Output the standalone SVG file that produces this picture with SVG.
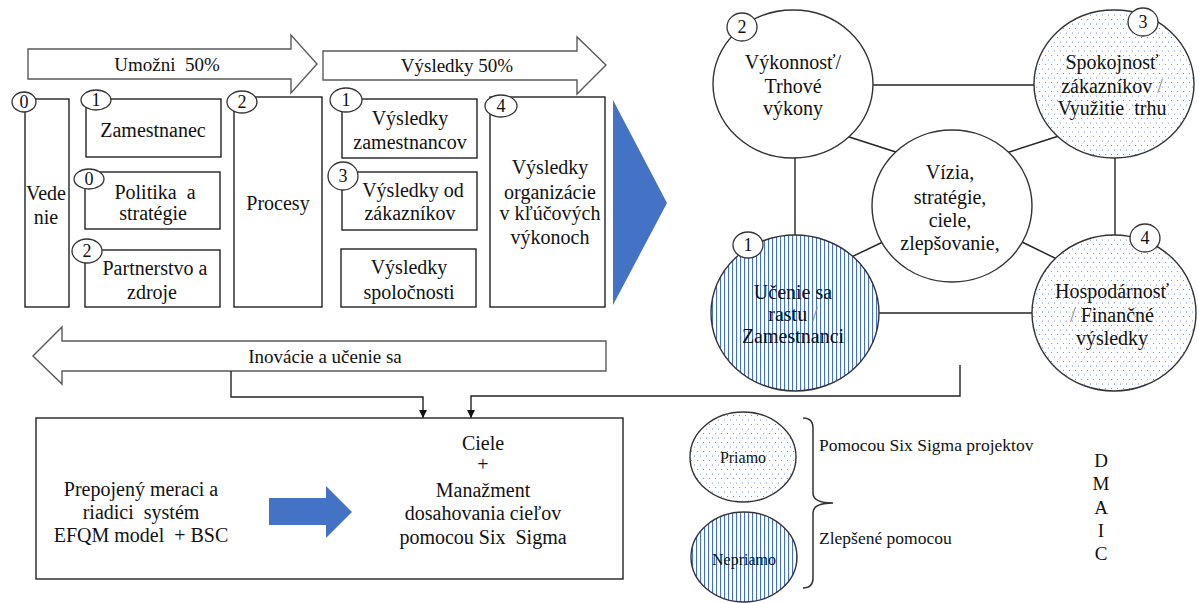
<svg xmlns="http://www.w3.org/2000/svg" width="1199" height="603" viewBox="0 0 1199 603">
  <style>
    text { font-family: "Liberation Serif", "Times New Roman", serif; fill: #111; text-anchor: middle; dominant-baseline: central; }
    .t20 { font-size: 20px; }
    .t19 { font-size: 19px; }
    .num { font-size: 18px; }
    .small { font-size: 17.5px; text-anchor: start; }
    .box { fill: #fff; stroke: #222; stroke-width: 1.4; }
    .blk { fill: #fff; stroke: #5a5a5a; stroke-width: 1.4; }
    .big { stroke: #333; stroke-width: 1.4; }
    .lbl { fill: #fff; stroke: #333; stroke-width: 1.3; }
    .wire { fill: none; stroke: #222; stroke-width: 1.4; }
    .soft { fill: #888; }
  </style>
  <defs>
    <pattern id="dots" width="6" height="9" patternUnits="userSpaceOnUse">
      <rect width="6" height="9" fill="#fff"/>
      <circle cx="1.5" cy="1.5" r="0.6" fill="#5b86d6"/>
      <circle cx="4.5" cy="6" r="0.6" fill="#5b86d6"/>
    </pattern>
    <pattern id="stripes" width="4" height="10" patternUnits="userSpaceOnUse">
      <rect width="4" height="10" fill="#fff"/>
      <rect x="0" width="1.1" height="10" fill="#4472C4"/>
    </pattern>
    <marker id="tri" viewBox="0 0 10 10" refX="10" refY="5" markerWidth="8" markerHeight="8" markerUnits="userSpaceOnUse" orient="auto">
      <path d="M0,0 L10,5 L0,10 Z" fill="#111"/>
    </marker>
  </defs>

  <rect width="1199" height="603" fill="#fff"/>

  <!-- block arrows across the top and bottom of the EFQM model -->
  <g id="arrow-umozni">
    <path class="blk" d="M28,49 H291 V35 L317,64 L291,93 V79 H28 Z"/>
    <text class="t19" x="167" y="64">Umožni&#160; 50%</text>
  </g>
  <g id="arrow-vysledky">
    <path class="blk" d="M323,51 H577 V37 L606,65 L577,94 V80 H323 Z"/>
    <text class="t19" x="457" y="65">Výsledky 50%</text>
  </g>
  <g id="arrow-inovacie">
    <path class="blk" d="M606,341 H62 V327 L33,356 L62,384 V371 H606 Z"/>
    <text class="t19" x="325" y="356">Inovácie a učenie sa</text>
  </g>

  <!-- EFQM criteria boxes -->
  <g id="vedenie">
    <rect class="box" x="25" y="99" width="44" height="208"/>
    <text class="t20" x="46" y="193">Vede</text>
    <text class="t20" x="46" y="217">nie</text>
    <ellipse class="lbl" cx="24" cy="102" rx="12" ry="10"/>
    <text class="num" x="24" y="102">0</text>
  </g>
  <g id="zamestnanec">
    <rect class="box" x="86" y="99" width="135" height="58"/>
    <text class="t20" x="153" y="130">Zamestnanec</text>
    <ellipse class="lbl" cx="96" cy="100" rx="15" ry="10"/>
    <text class="num" x="96" y="100">1</text>
  </g>
  <g id="politika">
    <rect class="box" x="85" y="172" width="135" height="57"/>
    <text class="t20" x="155" y="192">Politika&#160; a</text>
    <text class="t20" x="153" y="213">stratégie</text>
    <ellipse class="lbl" cx="89" cy="179" rx="15" ry="10"/>
    <text class="num" x="89" y="179">0</text>
  </g>
  <g id="partnerstvo">
    <rect class="box" x="85" y="250" width="135" height="57"/>
    <text class="t20" x="155" y="268">Partnerstvo a</text>
    <text class="t20" x="152" y="292">zdroje</text>
    <ellipse class="lbl" cx="87" cy="251" rx="15" ry="12"/>
    <text class="num" x="87" y="251">2</text>
  </g>
  <g id="procesy">
    <rect class="box" x="234" y="97" width="88" height="210"/>
    <text class="t20" x="278" y="203">Procesy</text>
    <ellipse class="lbl" cx="242" cy="102" rx="15" ry="11"/>
    <text class="num" x="242" y="102">2</text>
  </g>
  <g id="vysledky-zamestnancov">
    <rect class="box" x="342" y="99" width="135" height="59"/>
    <text class="t20" x="410" y="118">Výsledky</text>
    <text class="t20" x="410" y="142">zamestnancov</text>
    <ellipse class="lbl" cx="346" cy="100" rx="16" ry="12"/>
    <text class="num" x="346" y="100">1</text>
  </g>
  <g id="vysledky-zakaznikov">
    <rect class="box" x="342" y="172" width="135" height="58"/>
    <text class="t20" x="413" y="190">Výsledky od</text>
    <text class="t20" x="410" y="213">zákazníkov</text>
    <ellipse class="lbl" cx="343" cy="176" rx="15" ry="14"/>
    <text class="num" x="343" y="176">3</text>
  </g>
  <g id="vysledky-spolocnosti">
    <rect class="box" x="341" y="249" width="135" height="58"/>
    <text class="t20" x="409" y="267">Výsledky</text>
    <text class="t20" x="409" y="292">spoločnosti</text>
  </g>
  <g id="vysledky-organizacie">
    <rect class="box" x="490" y="97" width="115" height="210"/>
    <text class="t20" x="550" y="167">Výsledky</text>
    <text class="t20" x="550" y="192">organizácie</text>
    <text class="t20" x="550" y="213">v kľúčových</text>
    <text class="t20" x="550" y="237">výkonoch</text>
    <ellipse class="lbl" cx="501" cy="106" rx="16" ry="11"/>
    <text class="num" x="501" y="106">4</text>
  </g>

  <!-- transition wedge into the BSC -->
  <g id="wedge">
    <path d="M613,100 L667,203 L613,305 Z" fill="#4472C4"/>
  </g>

  <!-- connectors -->
  <g id="connectors">
    <line class="wire" x1="860" y1="85" x2="1045" y2="85"/>
    <line class="wire" x1="866" y1="313" x2="1045" y2="313"/>
    <line class="wire" x1="795" y1="150" x2="795" y2="245"/>
    <line class="wire" x1="1115" y1="150" x2="1115" y2="245"/>
    <line class="wire" x1="840" y1="134" x2="905" y2="155"/>
    <line class="wire" x1="1000" y1="155" x2="1065" y2="134"/>
    <line class="wire" x1="845" y1="260" x2="885" y2="241"/>
    <line class="wire" x1="1020" y1="241" x2="1065" y2="263"/>
    <path class="wire" d="M231,371 V397 H423 V418" marker-end="url(#tri)"/>
    <path class="wire" d="M960,365 V396 H471 V418" marker-end="url(#tri)"/>
  </g>

  <!-- balanced scorecard perspectives -->
  <g id="vykonnost">
    <ellipse class="big" cx="793" cy="84" rx="80" ry="74" fill="#fff"/>
    <text class="t20" x="793" y="62">Výkonnosť/</text>
    <text class="t20" x="793" y="86">Trhové</text>
    <text class="t20" x="793" y="108">výkony</text>
    <ellipse class="lbl" cx="742" cy="27" rx="15" ry="14"/>
    <text class="num" x="742" y="27">2</text>
  </g>
  <g id="spokojnost">
    <ellipse class="big" cx="1114" cy="84" rx="80" ry="74" fill="url(#dots)"/>
    <text class="t20" x="1112" y="62">Spokojnosť</text>
    <text class="t20" x="1112" y="86">zákazníkov <tspan class="soft">/</tspan></text>
    <text class="t20" x="1112" y="108">Využitie&#160; trhu</text>
    <ellipse class="lbl" cx="1143" cy="22" rx="15" ry="14"/>
    <text class="num" x="1143" y="22">3</text>
  </g>
  <g id="vizia">
    <ellipse class="big" cx="952" cy="206" rx="80" ry="76" fill="#fff"/>
    <text class="t20" x="950" y="172">Vízia,</text>
    <text class="t20" x="950" y="197">stratégie,</text>
    <text class="t20" x="950" y="220">ciele,</text>
    <text class="t20" x="950" y="243">zlepšovanie,</text>
  </g>
  <g id="ucenie">
    <ellipse class="big" cx="795" cy="313" rx="84" ry="78" fill="url(#stripes)"/>
    <text class="t20" x="793" y="292">Učenie sa</text>
    <text class="t20" x="793" y="314">rastu <tspan class="soft">/</tspan></text>
    <text class="t20" x="793" y="336">Zamestnanci</text>
    <ellipse class="lbl" cx="748" cy="245" rx="15" ry="13"/>
    <text class="num" x="748" y="245">1</text>
  </g>
  <g id="hospodarnost">
    <ellipse class="big" cx="1114" cy="313" rx="82" ry="78" fill="url(#dots)"/>
    <text class="t20" x="1112" y="291">Hospodárnosť</text>
    <text class="t20" x="1112" y="315"><tspan class="soft">/</tspan> Finančné</text>
    <text class="t20" x="1112" y="338">výsledky</text>
    <ellipse class="lbl" cx="1145" cy="238" rx="15" ry="14"/>
    <text class="num" x="1145" y="238">4</text>
  </g>

  <!-- measurement and management system -->
  <g id="system">
    <rect class="box" x="36" y="418" width="587" height="161"/>
    <text class="t20" x="141" y="489">Prepojený meraci a</text>
    <text class="t20" x="141" y="512">riadici&#160; systém</text>
    <text class="t20" x="141" y="535">EFQM model&#160; + BSC</text>
    <path d="M269,498 H326 V486 L352,512 L326,538 V525 H269 Z" fill="#4472C4"/>
    <text class="t20" x="483" y="443">Ciele</text>
    <text class="t20" x="483" y="464">+</text>
    <text class="t20" x="483" y="490">Manažment</text>
    <text class="t20" x="483" y="513">dosahovania cieľov</text>
    <text class="t20" x="483" y="537">pomocou Six&#160; Sigma</text>
  </g>

  <!-- legend -->
  <g id="priamo">
    <ellipse class="big" cx="743" cy="457" rx="53" ry="45" fill="url(#dots)"/>
    <text x="743" y="457" style="font-size:16px">Priamo</text>
  </g>
  <g id="nepriamo">
    <ellipse class="big" cx="744" cy="557" rx="53" ry="45" fill="url(#stripes)"/>
    <text x="744" y="559" style="font-size:16px">Nepriamo</text>
  </g>
  <g id="brace">
    <path d="M803,418 Q813,418 813,428 V493 Q813,503 833,503 Q813,503 813,513 V578 Q813,588 803,588" fill="none" stroke="#333" stroke-width="1.5"/>
    <text class="small" x="819" y="445">Pomocou Six Sigma projektov</text>
    <text class="small" x="819" y="538">Zlepšené pomocou</text>
  </g>
  <g id="dmaic">
    <text class="t19" x="1101" y="460">D</text>
    <text class="t19" x="1101" y="483">M</text>
    <text class="t19" x="1101" y="507">A</text>
    <text class="t19" x="1101" y="530">I</text>
    <text class="t19" x="1101" y="553">C</text>
  </g>
</svg>
